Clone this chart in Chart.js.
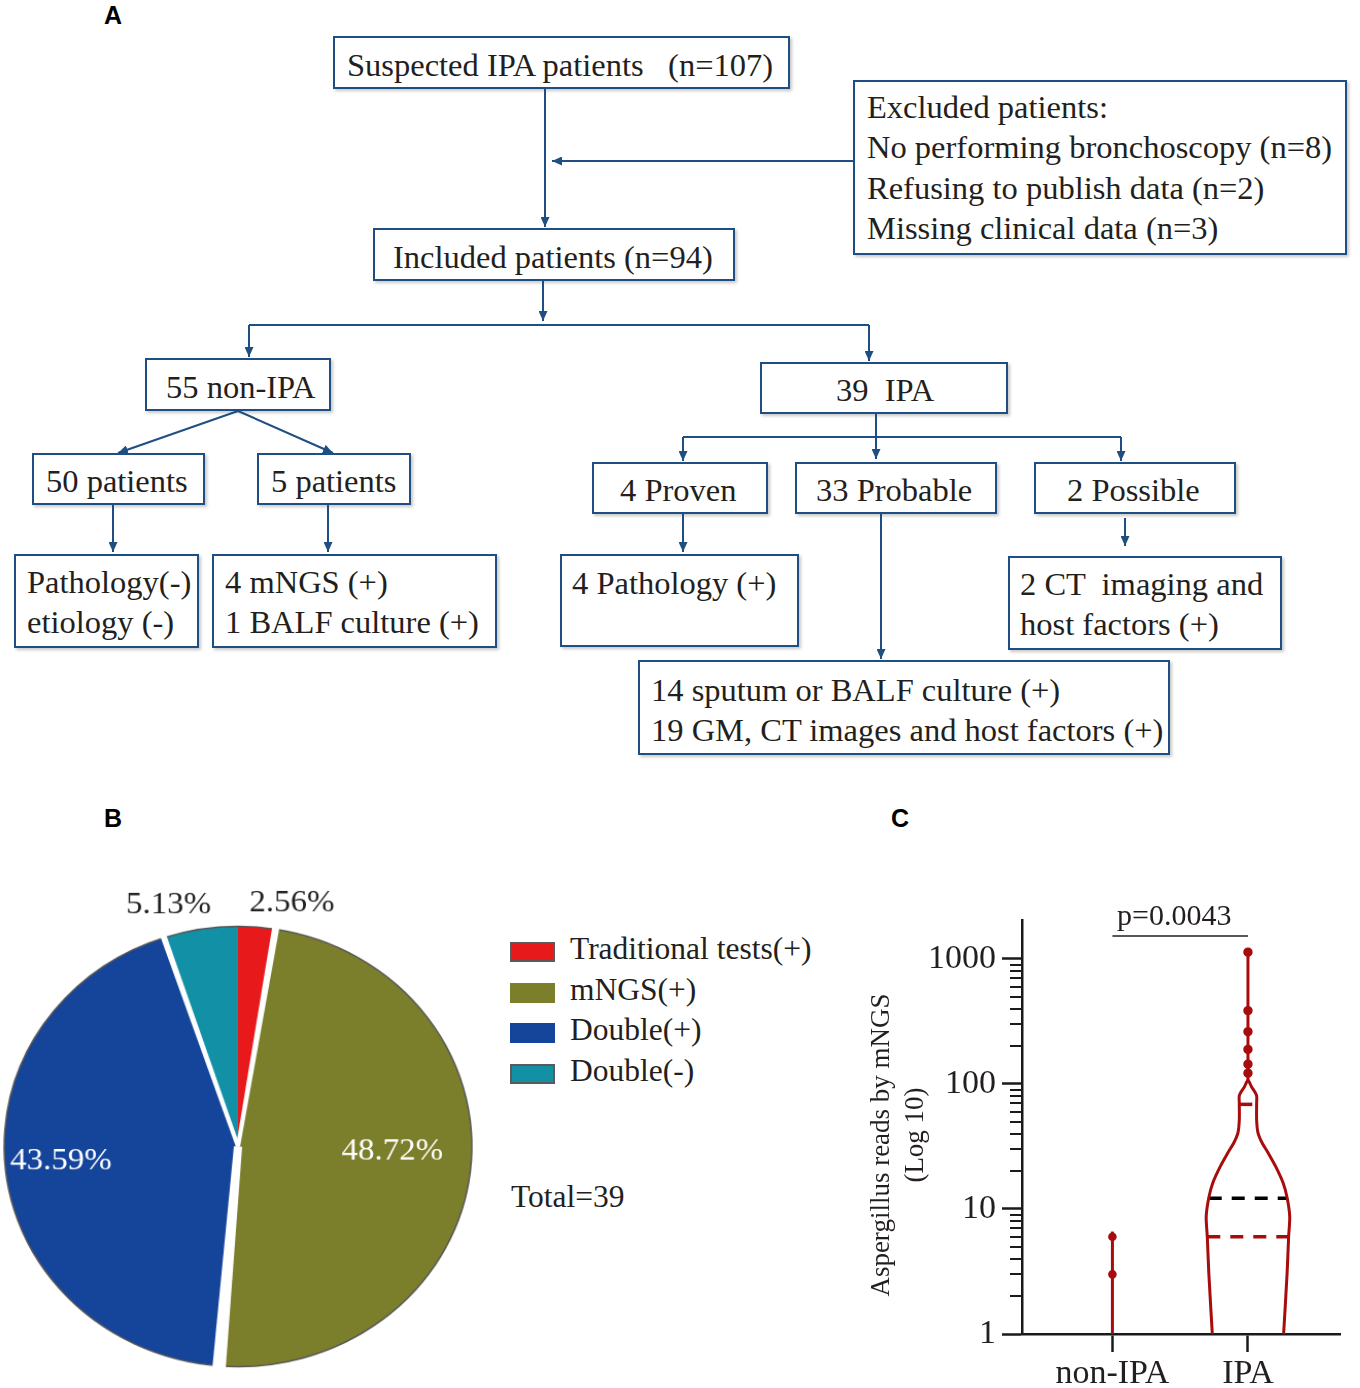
<!DOCTYPE html>
<html><head><meta charset="utf-8">
<script src="https://cdn.jsdelivr.net/npm/chart.js@4.4.1/dist/chart.umd.min.js"></script>
<style>
html,body{margin:0;padding:0;background:#fff;}
body{width:1360px;height:1388px;position:relative;overflow:hidden;font-family:"Liberation Serif","Times New Roman",serif;color:#231f20;}
.box{position:absolute;box-sizing:border-box;border:2px solid #1f4f82;background:#fff;box-shadow:2px 2px 3px rgba(0,0,0,0.22);}
.txt{position:absolute;white-space:pre;font-size:32.5px;line-height:40.5px;color:#231f20;}
.panel{position:absolute;font-family:"Liberation Sans",Arial,sans-serif;font-weight:bold;font-size:25px;line-height:30px;color:#000;}
#flow{position:absolute;left:0;top:0;}
#pieWrap{position:absolute;left:0;top:880px;width:476px;height:508px;transform:scale(1.03,0.97);transform-origin:238px 266.5px;}
#violinWrap{position:absolute;left:860px;top:880px;width:500px;height:508px;}
.leg{position:absolute;font-size:31.5px;line-height:36px;white-space:pre;color:#231f20;}
.legbox{position:absolute;width:45px;height:20px;box-sizing:border-box;}
</style>
</head>
<body>
<div class="panel" style="left:104px;top:0px;">A</div>
<div class="panel" style="left:104px;top:803px;">B</div>
<div class="panel" style="left:891px;top:803px;">C</div>
<div id="boxes"></div>
<svg id="flow" width="1360" height="800" xmlns="http://www.w3.org/2000/svg">
  <defs>
    <marker id="ah" markerWidth="10" markerHeight="9" refX="10" refY="4.5" orient="auto" markerUnits="userSpaceOnUse">
      <path d="M0,0 L10,4.5 L0,9 z" fill="#1f4f82"/>
    </marker>
  </defs>
</svg>
<div id="pieWrap"><canvas id="pie"></canvas></div>
<div id="legend"></div>
<div id="violinWrap"><canvas id="violin"></canvas></div>
<script>
// ================= DATA =================
// Panel B: pie (counts out of 39 IPA patients)
const pieLabels = ['Traditional tests(+)', 'mNGS(+)', 'Double(+)', 'Double(-)'];
const pieCounts = [1, 19, 17, 2];
const pieColors = ['#e8191b', '#7b7f2b', '#15449b', '#1190a6'];

// Panel C: violin plot of Aspergillus reads (log scale)
const groups = ['non-IPA', 'IPA'];
const ipaLevels    = [1, 3.1, 6.0, 8.7, 12.3, 16.2, 21.9, 28.2, 33.9, 40.7, 51.3, 70.8, 81.3, 95.5, 107];
const ipaHalfWidth = [0.263, 0.289, 0.300, 0.308, 0.289, 0.259, 0.204, 0.148, 0.104, 0.074, 0.064, 0.064, 0.063, 0.025, 0];
const ipaUpperPoints = [122, 144, 189, 262, 386, 1133];
const ipaMedian = 12.2;
const ipaQuartiles = [6.0, 68.7];
const nonIpaPoints = [3.0, 6.0];
const nonIpaMax = 6.6;
const pValueLabel = 'p=0.0043';
const pBracketLevel = 1530;
const yMajorTicks = [1, 10, 100, 1000];
const yTitleLines = ['Aspergillus reads by mNGS', '(Log 10)'];

// Panel A: flowchart boxes
const flowBoxes = [
  {x1:333, y1:36,  x2:790,  y2:89,  tx:347,  ty:65,  lines:['Suspected IPA patients   (n=107)']},
  {x1:853, y1:80,  x2:1347, y2:255, tx:867,  ty:107, lines:['Excluded patients:','No performing bronchoscopy (n=8)','Refusing to publish data (n=2)','Missing clinical data (n=3)']},
  {x1:373, y1:228, x2:735,  y2:281, tx:393,  ty:257, lines:['Included patients (n=94)']},
  {x1:145, y1:358, x2:331,  y2:411, tx:166,  ty:387, lines:['55 non-IPA']},
  {x1:760, y1:362, x2:1008, y2:414, tx:836,  ty:390, lines:['39  IPA']},
  {x1:32,  y1:453, x2:205,  y2:505, tx:46,   ty:481, lines:['50 patients']},
  {x1:257, y1:453, x2:411,  y2:505, tx:271,  ty:481, lines:['5 patients']},
  {x1:14,  y1:554, x2:199,  y2:648, tx:27,   ty:582, lines:['Pathology(-)','etiology (-)']},
  {x1:212, y1:554, x2:497,  y2:648, tx:225,  ty:582, lines:['4 mNGS (+)','1 BALF culture (+)']},
  {x1:592, y1:462, x2:768,  y2:514, tx:620,  ty:490, lines:['4 Proven']},
  {x1:795, y1:462, x2:997,  y2:514, tx:816,  ty:490, lines:['33 Probable']},
  {x1:1034,y1:462, x2:1236, y2:514, tx:1067, ty:490, lines:['2 Possible']},
  {x1:560, y1:554, x2:799,  y2:647, tx:572,  ty:583, lines:['4 Pathology (+)']},
  {x1:1008,y1:556, x2:1282, y2:650, tx:1020, ty:584, lines:['2 CT  imaging and','host factors (+)']},
  {x1:638, y1:660, x2:1170, y2:755, tx:651,  ty:690, lines:['14 sputum or BALF culture (+)','19 GM, CT images and host factors (+)']}
];
const flowLinks = [
  {p:[[545,89],[545,227]], a:true},
  {p:[[853,161],[552,161]], a:true},
  {p:[[543,281],[543,321]], a:true},
  {p:[[249,325],[869,325]], a:false},
  {p:[[249,325],[249,357]], a:true},
  {p:[[869,325],[869,361]], a:true},
  {p:[[238,411],[118,453]], a:true},
  {p:[[238,411],[333,453]], a:true},
  {p:[[113,505],[113,552]], a:true},
  {p:[[328,505],[328,552]], a:true},
  {p:[[876,414],[876,437]], a:false},
  {p:[[683,437],[1121,437]], a:false},
  {p:[[683,437],[683,461]], a:true},
  {p:[[876,437],[876,459]], a:true},
  {p:[[1121,437],[1121,461]], a:true},
  {p:[[683,514],[683,552]], a:true},
  {p:[[1125,518],[1125,546]], a:true},
  {p:[[881,514],[881,659]], a:true}
];

// ================= FLOWCHART =================
(function(){
  const host = document.getElementById('boxes');
  flowBoxes.forEach(b=>{
    const d = document.createElement('div');
    d.className='box';
    d.style.left=b.x1+'px'; d.style.top=b.y1+'px';
    d.style.width=(b.x2-b.x1)+'px'; d.style.height=(b.y2-b.y1)+'px';
    host.appendChild(d);
    const t = document.createElement('div');
    t.className='txt';
    t.style.left=b.tx+'px'; t.style.top=(b.ty-20.25)+'px';
    t.textContent=b.lines.join('\n');
    host.appendChild(t);
  });
  const svg = document.getElementById('flow');
  const NS='http://www.w3.org/2000/svg';
  flowLinks.forEach(l=>{
    const pl=document.createElementNS(NS,'polyline');
    pl.setAttribute('points', l.p.map(q=>q.join(',')).join(' '));
    pl.setAttribute('fill','none');
    pl.setAttribute('stroke','#1f4f82');
    pl.setAttribute('stroke-width','2');
    if(l.a) pl.setAttribute('marker-end','url(#ah)');
    svg.appendChild(pl);
  });
})();

// ================= PIE (B) =================
const pieTotal = pieCounts.reduce((a,b)=>a+b,0);
const pieLabelPlace = [
  {mode:'out', shift:32},
  {mode:'in', r:0.66, da:-5},
  {mode:'in', r:0.76, da:2},
  {mode:'out', shift:-27}
];
const pieSeparators = {1:[4,7], 2:[8,13], 3:[4,6]};
const pieLegendOutline = [true,false,false,true];

const pieDecor = {
  id:'pieDecor',
  afterDatasetsDraw(chart){
    const ctx = chart.ctx;
    const meta = chart.getDatasetMeta(0);
    ctx.save();
    meta.data.forEach((arc,i)=>{
      const {x,y,startAngle,endAngle,outerRadius} = arc.getProps(['x','y','startAngle','endAngle','outerRadius'],true);
      ctx.strokeStyle='#555'; ctx.lineWidth=1.5;
      ctx.beginPath(); ctx.arc(x,y,outerRadius,startAngle,endAngle); ctx.stroke();
    });
    meta.data.forEach((arc,i)=>{
      const sep = pieSeparators[i];
      if(!sep) return;
      const {x,y,startAngle,outerRadius} = arc.getProps(['x','y','startAngle','outerRadius'],true);
      const c=Math.cos(startAngle), s=Math.sin(startAngle);
      const nx=-s, ny=c, R=outerRadius+4;
      ctx.fillStyle='#fff';
      ctx.beginPath();
      ctx.moveTo(x+nx*sep[0]/2, y+ny*sep[0]/2);
      ctx.lineTo(x+c*R+nx*sep[1]/2, y+s*R+ny*sep[1]/2);
      ctx.lineTo(x+c*R-nx*sep[1]/2, y+s*R-ny*sep[1]/2);
      ctx.lineTo(x-nx*sep[0]/2, y-ny*sep[0]/2);
      ctx.closePath(); ctx.fill();
    });
    ctx.font='32px "Liberation Serif"';
    ctx.textAlign='center'; ctx.textBaseline='middle';
    meta.data.forEach((arc,i)=>{
      const {x,y,startAngle,endAngle,outerRadius} = arc.getProps(['x','y','startAngle','endAngle','outerRadius'],true);
      const pl = pieLabelPlace[i];
      const txt = (pieCounts[i]/pieTotal*100).toFixed(2)+'%';
      let mid=(startAngle+endAngle)/2, px, py;
      if(pl.mode==='out'){
        const r=outerRadius+25;
        px=x+r*Math.cos(mid)+pl.shift; py=y+r*Math.sin(mid);
        ctx.fillStyle='#231f20';
      } else {
        mid += pl.da*Math.PI/180;
        const r=outerRadius*pl.r;
        px=x+r*Math.cos(mid); py=y+r*Math.sin(mid);
        ctx.fillStyle='#ffffff';
      }
      ctx.fillText(txt,px,py);
    });
    ctx.restore();
  }
};

new Chart(document.getElementById('pie'), {
  type:'pie',
  data:{labels:pieLabels, datasets:[{data:pieCounts, backgroundColor:pieColors, borderWidth:0, radius:227}]},
  options:{
    responsive:true, maintainAspectRatio:false, animation:false, events:[],
    layout:{padding:{top:25}},
    plugins:{legend:{display:false}, tooltip:{enabled:false}}
  },
  plugins:[pieDecor]
});

// legend (HTML)
(function(){
  const host=document.getElementById('legend');
  pieLabels.forEach((lab,i)=>{
    const cy=952+40.5*i;
    const b=document.createElement('div');
    b.className='legbox';
    b.style.left='510px'; b.style.top=(cy-10)+'px';
    b.style.background=pieColors[i];
    if(pieLegendOutline[i]) b.style.border='2px solid #5a5a5a';
    host.appendChild(b);
    const t=document.createElement('div');
    t.className='leg';
    t.style.left='570px'; t.style.top=(cy-3-18)+'px';
    t.textContent=lab;
    host.appendChild(t);
  });
  const tt=document.createElement('div');
  tt.className='leg';
  tt.style.left='511px'; tt.style.top=(1197-18)+'px';
  tt.textContent='Total='+pieTotal;
  host.appendChild(tt);
})();

// ================= VIOLIN (C) =================
const RED='#a80c0c', INK='#1a1a1a';
function widthAt(v){
  const lv=Math.log10(v);
  for(let i=0;i<ipaLevels.length-1;i++){
    const a=Math.log10(ipaLevels[i]), b=Math.log10(ipaLevels[i+1]);
    if(lv>=a && lv<=b){ const t=(lv-a)/(b-a); return ipaHalfWidth[i]+(ipaHalfWidth[i+1]-ipaHalfWidth[i])*t; }
  }
  return 0;
}
const ipaX = 2, nonX = 1;
const outline = ipaLevels.map((v,i)=>({x:ipaX+ipaHalfWidth[i], y:v}));
for(let i=ipaLevels.length-2;i>=0;i--) outline.push({x:ipaX-ipaHalfWidth[i], y:ipaLevels[i]});
const hLine = v => [{x:ipaX-widthAt(v), y:v},{x:ipaX+widthAt(v), y:v}];

const yTickValues=[];
for(let d=1; d<1000; d*=10){ for(let m=1;m<10;m++) yTickValues.push(m*d); }
yTickValues.push(1000);

const violinExtras = {
  id:'violinExtras',
  afterDraw(chart){
    const {ctx, scales:{x,y}, chartArea} = chart;
    ctx.save();
    ctx.strokeStyle=INK; ctx.lineWidth=2;
    y.ticks.forEach(t=>{
      if(yMajorTicks.includes(t.value)) return;
      const py=Math.round(y.getPixelForValue(t.value));
      ctx.beginPath(); ctx.moveTo(chartArea.left-12,py); ctx.lineTo(chartArea.left,py); ctx.stroke();
    });
    const px=(x.getPixelForValue(nonX)+x.getPixelForValue(ipaX))/2;
    const py=y.getPixelForValue(pBracketLevel);
    ctx.fillStyle='#231f20'; ctx.font='30px "Liberation Serif"';
    ctx.textAlign='center'; ctx.textBaseline='middle';
    ctx.fillText(pValueLabel, px-6, py-19);
    // rotated y-axis title (two lines)
    ctx.font='27px "Liberation Serif"';
    const titlePos=[[22,265],[56,255]];
    yTitleLines.forEach((line,i)=>{
      ctx.save();
      ctx.translate(titlePos[i][0], titlePos[i][1]);
      ctx.rotate(-Math.PI/2);
      ctx.fillText(line,0,0);
      ctx.restore();
    });
    ctx.restore();
  }
};

new Chart(document.getElementById('violin'), {
  type:'scatter',
  data:{datasets:[
    {data:outline, showLine:true, tension:0.3, borderColor:RED, borderWidth:3, pointRadius:0},
    {data:[{x:ipaX,y:ipaLevels[ipaLevels.length-1]}].concat(ipaUpperPoints.map(v=>({x:ipaX,y:v}))),
     showLine:true, borderColor:RED, backgroundColor:RED, borderWidth:3,
     pointRadius:ctx=>ctx.dataIndex===0?0:3.2},
    {data:hLine(ipaMedian), showLine:true, borderColor:'#000', borderWidth:3.5, borderDash:[13,10], pointRadius:0},
    {data:hLine(ipaQuartiles[0]), showLine:true, borderColor:RED, borderWidth:3.5, borderDash:[13,10], pointRadius:0},
    {data:hLine(ipaQuartiles[1]), showLine:true, borderColor:RED, borderWidth:3.5, borderDash:[13,10], pointRadius:0},
    {data:[{x:nonX,y:1}].concat(nonIpaPoints.map(v=>({x:nonX,y:v})), [{x:nonX,y:nonIpaMax}]),
     showLine:true, borderColor:RED, backgroundColor:RED, borderWidth:3,
     pointRadius:ctx=>(ctx.dataIndex>0 && ctx.dataIndex<=nonIpaPoints.length)?2.8:0},
    {data:[{x:nonX,y:pBracketLevel},{x:ipaX,y:pBracketLevel}], showLine:true, borderColor:'#231f20', borderWidth:1.5, pointRadius:0}
  ]},
  options:{
    responsive:true, maintainAspectRatio:false, animation:false, events:[],
    layout:{padding:{top:40,right:20,left:0,bottom:0}},
    plugins:{legend:{display:false}, tooltip:{enabled:false}},
    scales:{
      x:{
        type:'linear', min:0.333, max:2.679,
        afterBuildTicks(scale){ scale.ticks = groups.map((g,i)=>({value:i+1})); },
        afterFit(scale){ scale.height = 54; },
        grid:{drawOnChartArea:false, drawTicks:true, tickLength:18, tickWidth:2.5, tickColor:INK},
        border:{display:true, width:2.5, color:INK},
        ticks:{autoSkip:false, maxRotation:0, padding:2, color:'#231f20',
          font:{family:'"Liberation Serif"', size:34},
          callback:(v,i)=>groups[i]}
      },
      y:{
        type:'logarithmic', min:1, max:2050,
        afterBuildTicks(scale){ scale.ticks = yTickValues.map(v=>({value:v, major:yMajorTicks.includes(v)})); },
        afterFit(scale){ scale.width = 162; },
        grid:{drawOnChartArea:false, drawTicks:true, tickLength:20, tickWidth:2.5,
          tickColor:ctx=> (ctx.tick && yMajorTicks.includes(ctx.tick.value)) ? INK : 'rgba(0,0,0,0)'},
        border:{display:true, width:2.5, color:INK},
        ticks:{autoSkip:false, padding:6, color:'#231f20',
          font:{family:'"Liberation Serif"', size:34},
          callback:(v)=> yMajorTicks.includes(v) ? String(v) : ''},
        title:{display:false}
      }
    }
  },
  plugins:[violinExtras]
});
</script>
</body></html>
